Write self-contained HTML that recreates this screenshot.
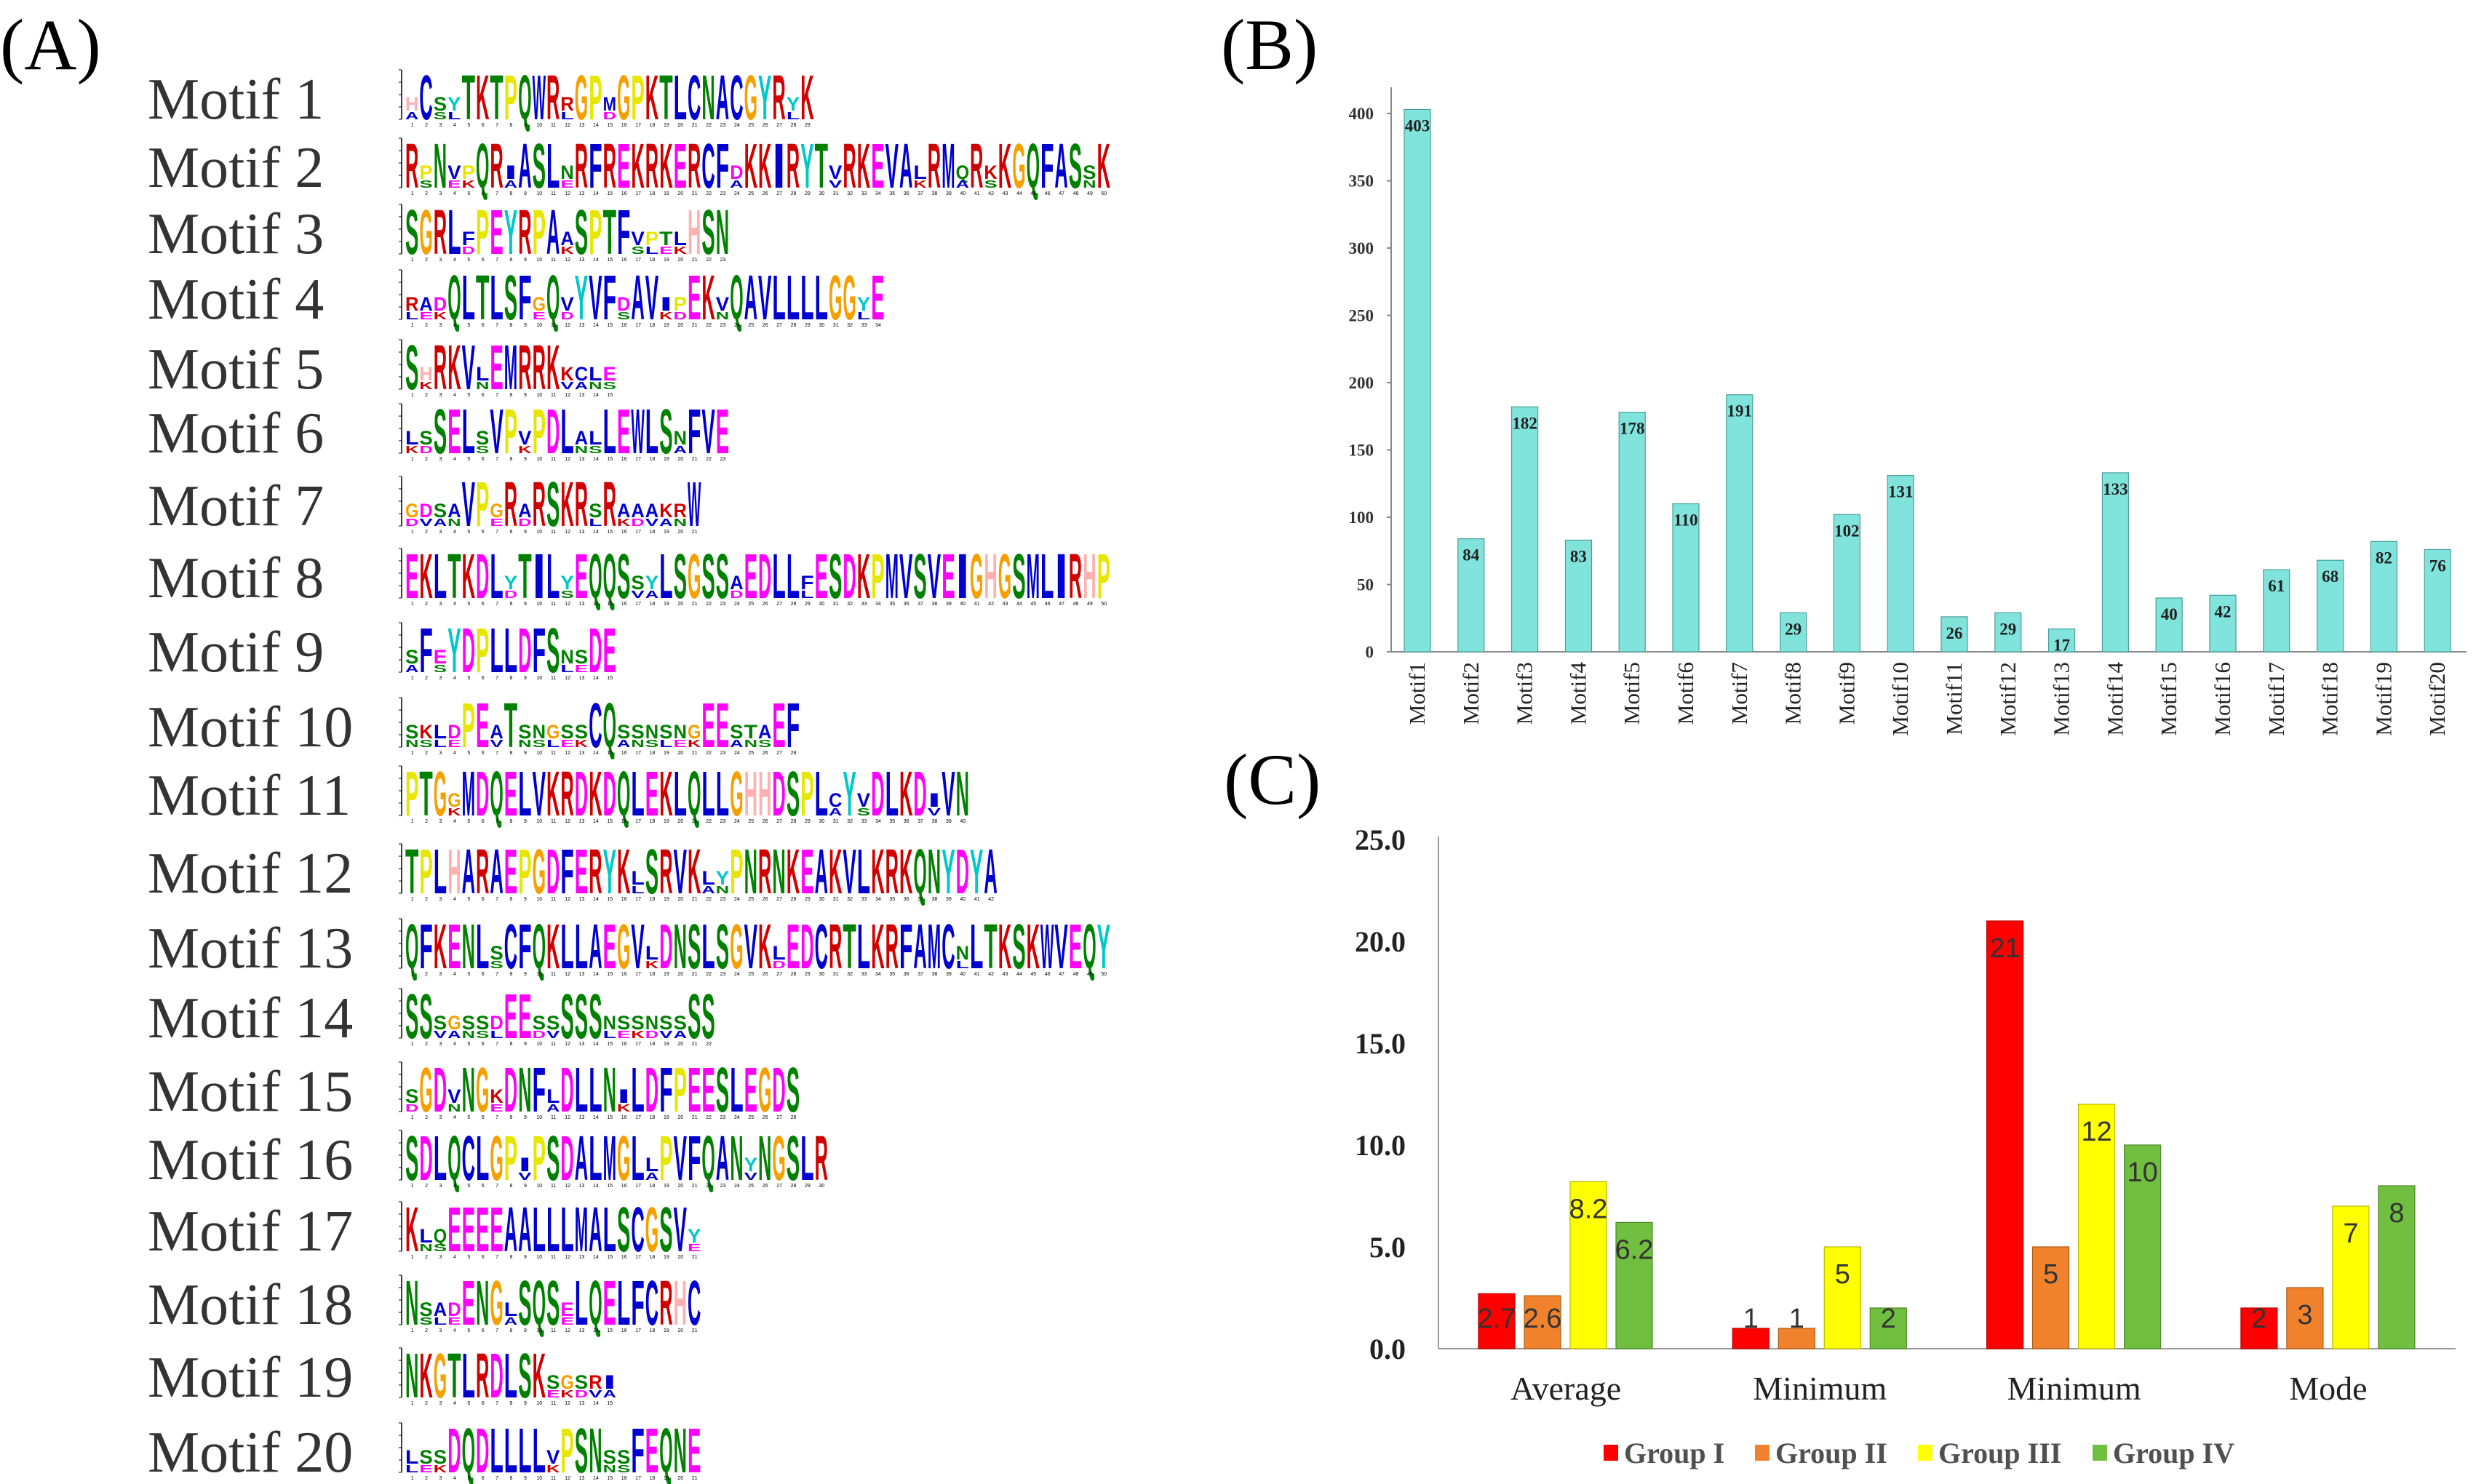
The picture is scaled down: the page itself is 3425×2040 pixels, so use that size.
<!DOCTYPE html>
<html><head><meta charset="utf-8"><style>
html,body{margin:0;padding:0;background:#fff;}
svg{display:block;}
</style></head><body>
<svg id="root" width="3425" height="2040" viewBox="0 0 3425 2040" xmlns="http://www.w3.org/2000/svg">
<rect width="3425" height="2040" fill="#fff"/>
<text x="0" y="95" font-family="Liberation Serif, serif" font-size="100">(A)</text>
<text x="1678" y="95" font-family="Liberation Serif, serif" font-size="100">(B)</text>
<text x="1682" y="1105" font-family="Liberation Serif, serif" font-size="100">(C)</text>
<g id="motifs"></g>
<g id="chartB"></g>
<g id="chartC"></g>
</svg>
<script>
// ---- Panel B data ----
const motifCategories = ["Motif1","Motif2","Motif3","Motif4","Motif5","Motif6","Motif7","Motif8","Motif9","Motif10","Motif11","Motif12","Motif13","Motif14","Motif15","Motif16","Motif17","Motif18","Motif19","Motif20"];
const motifCounts = [403,84,182,83,178,110,191,29,102,131,26,29,17,133,40,42,61,68,82,76];
const motifYTicks = [0,50,100,150,200,250,300,350,400];
// ---- Panel C data ----
const statCategories = ["Average","Minimum","Minimum","Mode"];
const groupNames = ["Group I","Group II","Group III","Group IV"];
const groupI = [2.7,1,21,2];
const groupII = [2.6,1,5,3];
const groupIII = [8.2,5,12,7];
const groupIV = [6.2,2,10,8];
const statYTicks = [0,5,10,15,20,25];
// ---- Motif consensus (uppercase = tall letter, lowercase = small stacked letter) ----
const motifSeqs = [
"hCsyTKTPQWRrGPmGPKTLCNACGYRyK",
"RpNvpQRiASLnRFREKRKERCFdKKIRYTvRKEVAlRMqRkKGQFASsK",
"SGRLfPEYRPAaSPTFvptlHSN",
"radQLTLSFgQvYVFdAVipEKvQAVLLLLGGyE",
"ShRKVlEMRRKkcle",
"lsSELsVPvPDLalLEWLSnFVE",
"gdsaVPgRaRSKRsRaaakrW",
"EKLTKDLyTILyEQQSsyLSGSSaEDLLfESDKPMVSVEIGHGSMLIRHP",
"sFeYDPLLDFSnsDE",
"skldPEaTsngssCQssnsngEEstaEF",
"PTGgMDQELVKRDKDQLEKLQLLGHHDSPLcYvDLKDiVN",
"TPLHARAEPGDFERYKlSRVKlyPNRNKEAKVLKRKQNYDYA",
"QFKENLsCFQKLLAEGVlDNSLSGVKlEDCRTLKRFAMCnLTKSKWVEQY",
"SSsgssdEEssSSSnssnssSS",
"sGDvNGkDNFlDLLNiLDFPEESLEGDS",
"SDLQCLGPiPSDALMGLlPVFQANyNGSLR",
"KlqEEEEAALLLMALSCGSVy",
"NsadENGlSQSeLQELFCRHC",
"NKGTLRDLSKsgsri",
"lssDQDLLLLvPSNssFEQNE"
];
const rowYs=[136,230,321,411,507,595,695,794,896,999,1093,1200,1303,1399,1500,1594,1692,1793,1893,1996];
const colorOf = {A:'#0000d0',C:'#0000d0',F:'#0000d0',I:'#0000d0',L:'#0000d0',V:'#0000d0',W:'#0000d0',M:'#0000d0',
 G:'#f5a000',P:'#e6e600',S:'#008000',T:'#008000',N:'#008000',Q:'#008000',R:'#d00000',K:'#d00000',
 E:'#ff00ff',D:'#ff00ff',H:'#ffb0b0',Y:'#00c8c8'};
const NS='http://www.w3.org/2000/svg';
function mk(tag,attrs,parent){const e=document.createElementNS(NS,tag);for(const k in attrs)e.setAttribute(k,attrs[k]);if(parent)parent.appendChild(e);return e;}
function letter(g,ch,x,yBottom,w,h){
  const fs=h/0.716;
  const t=mk('text',{x:x,y:yBottom,'font-family':'Liberation Sans, sans-serif','font-weight':'bold','font-size':fs.toFixed(1),fill:colorOf[ch]||'#0000d0',textLength:w,lengthAdjust:'spacingAndGlyphs'},g);
  t.textContent=ch;
}
// ---- Panel A ----
const mg=document.getElementById('motifs');
motifSeqs.forEach((seq,i)=>{
  const y=rowYs[i];
  const row=mk('g',{},mg);
  
  
  const lab=mk('text',{x:203,y:y+27,'font-family':'Liberation Serif, serif','font-size':80,fill:'#333'},row);
  
  
  lab.textContent='Motif '+(i+1);
  const top=y-40,bot=y+28,H=bot-top;
  mk('line',{x1:552,y1:top,x2:552,y2:bot,stroke:'#000','stroke-width':1.5},row);
  for(let k=0;k<=4;k++)mk('line',{x1:548,y1:bot-k*H/4,x2:552,y2:bot-k*H/4,stroke:'#000','stroke-width':1},row);
  const logo=mk('g',{},row);
  
  
  const w=19.4;
  [...seq].forEach((c,j)=>{
    const x=557+j*w;
    const C=c.toUpperCase();
    if(c===C){letter(logo,C,x,bot,w-1,H*0.92);}
    else{
      letter(logo,C,x,bot-H*0.18,w-1,H*0.28);
      const alt='ANSLEKDV'[(j+i)%8];
      letter(logo,alt,x,bot,w-1,H*0.16);
    }
    mk('text',{x:x+w/2,y:bot+10,'font-size':7,'text-anchor':'middle','font-family':'Liberation Sans, sans-serif',fill:'#000'},logo).textContent=String(j+1);
  });
});
// ---- Panel B ----
(function(){
  const g=document.getElementById('chartB');
  const x0=1912,y0=896,yTop=156,vTop=400,xEnd=3390;
  const ys=v=>y0-(v/vTop)*(y0-yTop);
  const step=73.8, first=1948, bw=36;
  const xs=i=>first+i*step;
  mk('line',{x1:x0,y1:120,x2:x0,y2:y0,stroke:'#888','stroke-width':2},g);
  mk('line',{x1:x0,y1:y0,x2:xEnd,y2:y0,stroke:'#888','stroke-width':2},g);
  motifYTicks.forEach(v=>{
    const t=mk('text',{x:1888,y:ys(v)+8,'text-anchor':'end','font-family':'Liberation Serif, serif','font-weight':'bold','font-size':23,fill:'#333'},g);
    
    
    t.textContent=v;
    mk('line',{x1:x0-6,y1:ys(v),x2:x0,y2:ys(v),stroke:'#888','stroke-width':2},g);
  });
  motifCounts.forEach((v,i)=>{
    const r=mk('rect',{x:xs(i)-bw/2,y:ys(v),width:bw,height:y0-ys(v),fill:'#80e4dc',stroke:'#4a9e98','stroke-width':1.2},g);
    
    
    const t=mk('text',{x:xs(i),y:ys(v)+30,'text-anchor':'middle','font-family':'Liberation Serif, serif','font-weight':'bold','font-size':23,fill:'#222'},g);
    
    
    t.textContent=v;
    const c=mk('text',{x:0,y:0,'text-anchor':'end','font-family':'Liberation Serif, serif','font-size':31,fill:'#222',transform:`translate(${xs(i)+10},${y0+14}) rotate(-90)`},g);
    
    
    c.textContent=motifCategories[i];
  });
})();
// ---- Panel C ----
(function(){
  const g=document.getElementById('chartC');
  const x0=1977,xEnd=3375,y0=1854,yTop=1154,vTop=25;
  const ys=v=>y0-(v/vTop)*(y0-yTop);
  const centers=i=>2152+i*349.3;
  const offs=[-95,-32,31,94], bw=50;
  const series=[groupI,groupII,groupIII,groupIV];
  const colors=['#ff0000','#f0822d','#ffff00','#70bf40'];
  const strokes=['#b00','#b05a10','#b8b800','#4d8a2a'];
  mk('line',{x1:x0,y1:1150,x2:x0,y2:y0,stroke:'#999','stroke-width':2},g);
  mk('line',{x1:x0,y1:y0,x2:xEnd,y2:y0,stroke:'#999','stroke-width':2},g);
  statYTicks.forEach(v=>{
    const t=mk('text',{x:1932,y:ys(v)+14,'text-anchor':'end','font-family':'Liberation Serif, serif','font-weight':'bold','font-size':40,fill:'#222'},g);
    
    
    t.textContent=v.toFixed(1);
  });
  statCategories.forEach((cat,i)=>{
    const t=mk('text',{x:centers(i),y:1924,'text-anchor':'middle','font-family':'Liberation Serif, serif','font-size':46,fill:'#222'},g);
    
    
    t.textContent=cat;
    series.forEach((s,k)=>{
      const v=s[i], x=centers(i)+offs[k];
      const r=mk('rect',{x:x-bw/2,y:ys(v),width:bw,height:y0-ys(v),fill:colors[k],stroke:strokes[k],'stroke-width':1.2},g);
      
      
      const ly=Math.min(ys(v)+36,1811);
      const l=mk('text',{x:x,y:ly+14,'text-anchor':'middle','font-family':'Liberation Sans, sans-serif','font-size':38,fill:'#333'},g);
      
      
      l.textContent=v;
    });
  });
  const lx=[2204,2412,2636,2876];
  groupNames.forEach((n,k)=>{
    const lg=mk('g',{},g);
    
    
    mk('rect',{x:lx[k],y:1986,width:20,height:22,fill:colors[k]},lg);
    const t=mk('text',{x:lx[k]+28,y:2011,'font-family':'Liberation Serif, serif','font-weight':'bold','font-size':40,fill:'#505050'},lg);
    t.textContent=n;
  });
})();
</script>
</body></html>
